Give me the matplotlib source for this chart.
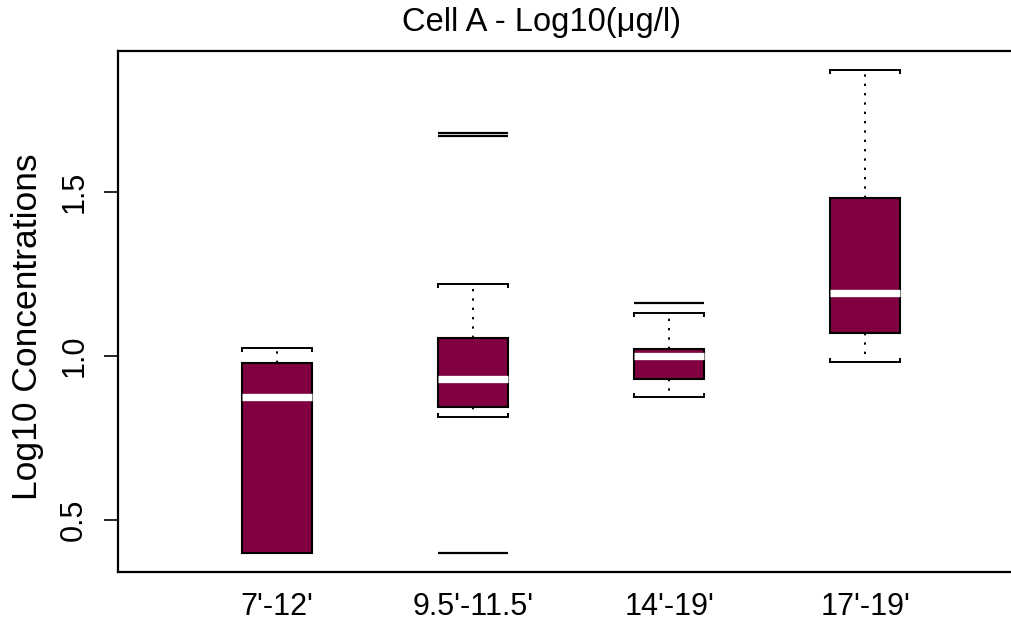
import matplotlib
matplotlib.use("Agg")
import matplotlib.pyplot as plt

plt.rcParams["font.family"] = ["Liberation Sans", "DejaVu Sans"]

# Summary statistics of log10 concentrations per depth interval
categories = ["7'-12'", "9.5'-11.5'", "14'-19'", "17'-19'"]
whisker_low = [0.400, 0.815, 0.876, 0.981]
quartile_1 = [0.400, 0.845, 0.929, 1.071]
medians = [0.875, 0.929, 0.999, 1.191]
quartile_3 = [0.979, 1.054, 1.021, 1.481]
whisker_high = [1.024, 1.219, 1.130, 1.873]
outliers = [[], [1.680, 1.673, 0.398], [1.161], []]

y_ticks = [0.5, 1.0, 1.5]
y_tick_labels = ["0.5", "1.0", "1.5"]

box_color = "#800040"
box_width = 0.357

fig = plt.figure(figsize=(10.12, 6.2), dpi=100)
# frame runs past the right edge of the canvas
ax = fig.add_axes([118.3 / 1012, 1 - 572.3 / 620, 943 / 1012, (572.3 - 50.7) / 620])

stats = []
for i in range(len(categories)):
    stats.append(dict(
        whislo=whisker_low[i], q1=quartile_1[i], med=medians[i],
        q3=quartile_3[i], whishi=whisker_high[i], fliers=outliers[i],
    ))

positions = list(range(1, len(categories) + 1))
ax.bxp(
    stats, positions=positions, widths=box_width, capwidths=box_width,
    patch_artist=True, showfliers=True,
    boxprops=dict(facecolor=box_color, edgecolor="black", linewidth=1.5),
    medianprops=dict(color="white", linewidth=5.3, solid_capstyle="butt"),
    whiskerprops=dict(color="black", linewidth=1.4, linestyle=(0, (1.2, 3.6))),
    capprops=dict(color="black", linewidth=1.4),
    flierprops=dict(marker="_", markersize=50.4, markeredgewidth=1.6,
                    markeredgecolor="black"),
)

# short hooks at the ends of each staple
hook = 0.012
for p, lo, hi in zip(positions, whisker_low, whisker_high):
    for xe in (p - box_width / 2, p + box_width / 2):
        ax.plot([xe, xe], [hi, hi - hook], color="black", lw=1.4, solid_capstyle="butt")
        ax.plot([xe, xe], [lo, lo + hook], color="black", lw=1.4, solid_capstyle="butt")

ax.set_xlim(0.19, 5.0)
ax.set_ylim(0.340, 1.932)

ax.set_xticks(positions)
ax.set_xticklabels(categories, fontsize=22)
ax.tick_params(axis="x", length=0, pad=14)

ax.set_yticks(y_ticks)
ax.set_yticklabels(y_tick_labels, fontsize=22, rotation=90, va="center")
ax.tick_params(axis="y", length=10, width=1.2, pad=11)

ax.spines["right"].set_visible(False)
for side in ["left", "top", "bottom"]:
    ax.spines[side].set_linewidth(1.6)

fig.text(541 / 1012, 1 - 22 / 620, "Cell A - Log10(\u03bcg/l)", ha="center",
         va="center", fontsize=23.5)
fig.text(28 / 1012, 1 - 327 / 620, "Log10 Concentrations", ha="center",
         va="center", rotation=90, fontsize=25.5)

fig.savefig("out.png", dpi=100)
